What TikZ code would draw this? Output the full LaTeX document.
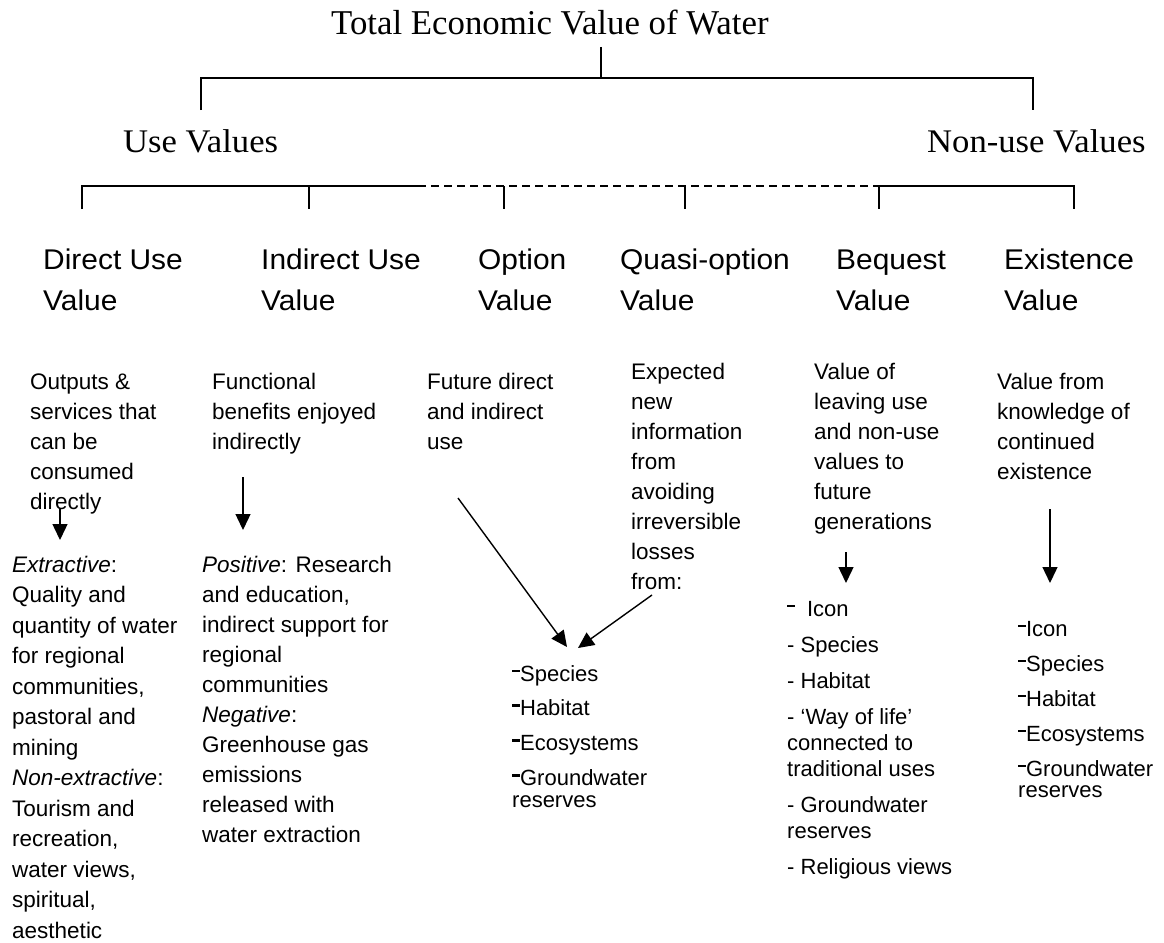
\documentclass[tikz,border=0pt]{standalone}
\usepackage{fontspec}
\setmainfont{Liberation Sans}
\newfontfamily\serifTitle{Liberation Serif}
\newfontfamily\serifWide[FakeStretch=1.05]{Liberation Serif}
\newfontfamily\headWide[FakeStretch=1.05]{Liberation Sans}
\usetikzlibrary{arrows.meta}
\newcommand\hdsh{\rule[0.40em]{0.36em}{0.13em}}
\newcommand\tstr[1]{\rule{0pt}{#1}}
\begin{document}
\begin{tikzpicture}[x=1pt,y=-1pt,
  tree/.style={line width=1.6pt},
  arr/.style={line width=1.4pt,-{Triangle[length=16pt,width=15pt]}},
  lvlone/.style={anchor=base west,inner sep=0pt,font=\serifWide\fontsize{33}{38}\selectfont},
  headtxt/.style={anchor=north west,inner sep=0pt,align=left,font=\headWide\fontsize{28.5}{41}\selectfont},
  desctxt/.style={anchor=north west,inner sep=0pt,align=left,font=\fontsize{22.5}{30}\selectfont},
  lowtxt/.style={anchor=north west,inner sep=0pt,align=left,font=\fontsize{22.5}{30.5}\selectfont},
  listA/.style={anchor=north west,inner sep=0pt,align=left,font=\fontsize{22}{22}\selectfont},
  listB/.style={anchor=north west,inner sep=0pt,align=left,font=\fontsize{22}{26}\selectfont},
  listC/.style={anchor=north west,inner sep=0pt,align=left,font=\fontsize{22}{21}\selectfont}
]
\useasboundingbox (0,0) rectangle (1164,942);

% titles
\node[anchor=base west,inner sep=0pt,font=\serifTitle\fontsize{34.8}{40}\selectfont] (title) at (331,35) {Total Economic Value of Water};
\node[lvlone] (use) at (123,152) {Use Values};
\node[lvlone] (nonuse) at (927,152) {Non-use Values};

% tree connectors
\coordinate (s0) at (601,47);
\coordinate (s1) at (601,78);
\coordinate (uL) at (201,78);
\coordinate (uR) at (1033,78);
\coordinate (uLb) at (201,110);
\coordinate (uRb) at (1033,110);
\draw[tree] (s0) -- (s1);
\draw[tree] (uLb) -- (uL) -- (uR) -- (uRb);

\coordinate (h1) at (82,186);
\coordinate (hs) at (418,186);
\coordinate (he) at (879,186);
\coordinate (h6) at (1074,186);
\coordinate (h1b) at (82,209);
\coordinate (h6b) at (1074,209);
\draw[tree] (h1b) -- (h1) -- (hs);
\draw[tree,dash pattern=on 8pt off 5pt] (hs) -- (he);
\draw[tree] (he) -- (h6) -- (h6b);
\foreach \xx/\nm in {309/t2,504/t3,685/t4,879/t5}{
  \coordinate (\nm a) at (\xx,186);
  \coordinate (\nm b) at (\xx,209);
  \draw[tree] (\nm a) -- (\nm b);
}

% headings
\node[headtxt] (hDirect) at (43,239) {\tstr{30pt}Direct Use\\Value};
\node[headtxt] (hIndirect) at (261,239) {\tstr{30pt}Indirect Use\\Value};
\node[headtxt] (hOption) at (478,239) {\tstr{30pt}Option\\Value};
\node[headtxt] (hQuasi) at (620,239) {\tstr{30pt}Quasi-option\\Value};
\node[headtxt] (hBequest) at (836,239) {\tstr{30pt}Bequest\\Value};
\node[headtxt] (hExist) at (1004,239) {\tstr{30pt}Existence\\Value};

% descriptions
\node[desctxt] (dDirect) at (30,365) {\tstr{24pt}Outputs \&\\services that\\can be\\consumed\\directly};
\node[desctxt] (dIndirect) at (212,365) {\tstr{24pt}Functional\\benefits enjoyed\\indirectly};
\node[desctxt] (dOption) at (427,365) {\tstr{24pt}Future direct\\and indirect\\use};
\node[desctxt] (dQuasi) at (631,355) {\tstr{24pt}Expected\\new\\information\\from\\avoiding\\irreversible\\losses\\from:};
\node[desctxt] (dBequest) at (814,355) {\tstr{24pt}Value of\\leaving use\\and non-use\\values to\\future\\generations};
\node[desctxt] (dExist) at (997,365) {\tstr{24pt}Value from\\knowledge of\\continued\\existence};

% lower texts
\node[lowtxt] (lDirect) at (12,548) {\tstr{24pt}\textit{Extractive}:\\Quality and\\quantity of water\\for regional\\communities,\\pastoral and\\mining\\\textit{Non-extractive}:\\Tourism and\\recreation,\\water views,\\spiritual,\\aesthetic};
\node[desctxt] (lIndirect) at (202,548) {\tstr{24pt}\textit{Positive}: Research\\and education,\\indirect support for\\regional\\communities\\\textit{Negative}:\\Greenhouse gas\\emissions\\released with\\water extraction};
\node[listA] (lMiddle) at (512,657) {\tstr{24pt}\hdsh Species\\[12.7pt]\hdsh Habitat\\[12.7pt]\hdsh Ecosystems\\[12.7pt]\hdsh Groundwater\\reserves};
\node[listB] (lBequest) at (787,592) {\tstr{24pt}\hdsh\hspace{12pt}Icon\\[10pt]- Species\\[10pt]- Habitat\\[10pt]- ‘Way of life’\\connected to\\traditional uses\\[10pt]- Groundwater\\reserves\\[10pt]- Religious views};
\node[listC] (lExist) at (1018,612) {\tstr{24pt}\hdsh Icon\\[14pt]\hdsh Species\\[14pt]\hdsh Habitat\\[14pt]\hdsh Ecosystems\\[14pt]\hdsh Groundwater\\reserves};

% arrows
\coordinate (a1s) at (60,508);   \coordinate (a1e) at (60,540);
\coordinate (a2s) at (243,477);  \coordinate (a2e) at (243,530);
\coordinate (a3s) at (458,498);  \coordinate (a3e) at (567,647);
\coordinate (a4s) at (652,595);  \coordinate (a4e) at (578,648);
\coordinate (a5s) at (846,552);  \coordinate (a5e) at (846,583);
\coordinate (a6s) at (1050,509); \coordinate (a6e) at (1050,583);
\draw[arr] (a1s) -- (a1e);
\draw[arr] (a2s) -- (a2e);
\draw[arr] (a3s) -- (a3e);
\draw[arr] (a4s) -- (a4e);
\draw[arr] (a5s) -- (a5e);
\draw[arr] (a6s) -- (a6e);
\end{tikzpicture}
\end{document}
